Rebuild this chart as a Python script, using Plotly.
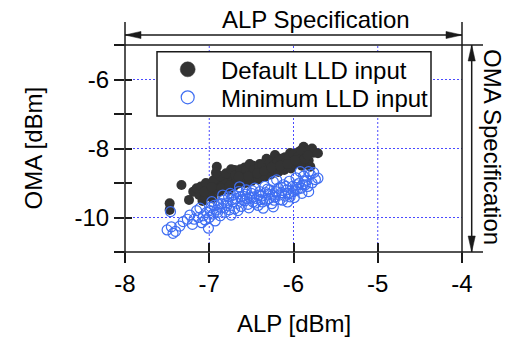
import plotly.graph_objects as go

# ---------------- data ----------------
default_alp = [-7.47,-7.47,-7.33,-7.24,-7.19,-7.12,-7.08,-7.05,-7.02,-7.00,-6.98,-6.96,-6.93,-6.91,-6.90,-6.88,-6.85,-6.83,-6.81,-6.79,
               -6.77,-6.75,-6.73,-6.71,-6.70,-6.68,-6.66,-6.64,-6.62,-6.60,-6.58,-6.57,-6.55,-6.53,-6.51,-6.50,-6.48,-6.46,-6.44,-6.42,
               -6.40,-6.38,-6.36,-6.34,-6.33,-6.31,-6.29,-6.27,-6.25,-6.24,-6.22,-6.20,-6.18,-6.17,-6.15,-6.13,-6.11,-6.10,-6.08,-6.06,
               -6.04,-6.03,-6.01,-5.99,-5.97,-5.96,-5.94,-5.92,-5.90,-5.88,-5.86,-5.84,-5.82,-5.80,-5.78,-5.76,-5.71,
               -7.15,-7.10,-7.04,-6.95,-6.87,-6.92,-6.80,-6.74,-6.69,-6.63,-6.56,-6.52,-6.47,-6.41,-6.37,-6.32,-6.28,-6.23,-6.19,-6.14,
               -6.09,-6.05,-6.00,-5.95,-5.91,-5.87,-5.83,-6.86,-6.76,-6.65,-6.54,-6.43,-6.35,-6.26,-6.16,-6.07,-5.98,-7.06,-6.97]
default_oma = [-9.59,-9.78,-9.06,-9.49,-9.25,-9.35,-9.52,-9.40,-9.22,-9.05,-9.30,-9.45,-9.15,-8.53,-9.00,-9.25,-9.10,-8.85,-9.05,-8.95,
               -9.20,-8.75,-8.98,-9.10,-8.62,-8.88,-9.02,-8.70,-8.92,-8.80,-8.55,-9.00,-8.72,-8.86,-8.60,-8.95,-8.50,-8.78,-8.66,-8.90,
               -8.45,-8.70,-8.58,-8.82,-8.40,-8.65,-8.52,-8.75,-8.35,-8.60,-8.19,-8.48,-8.68,-8.30,-8.55,-8.42,-8.62,-8.25,-8.50,-8.36,
               -8.13,-8.58,-8.28,-8.45,-8.20,-8.38,-8.10,-8.30,-8.50,-7.95,-8.18,-8.05,-8.35,-8.53,-8.00,-8.12,-8.14,
               -9.15,-9.10,-9.00,-8.92,-8.80,-8.70,-8.72,-8.60,-8.78,-8.60,-8.62,-8.45,-8.62,-8.55,-8.48,-8.30,-8.40,-8.48,-8.38,-8.30,
               -8.40,-8.25,-8.15,-8.25,-8.05,-8.30,-8.20,-9.15,-9.08,-8.82,-8.80,-8.72,-8.65,-8.55,-8.50,-8.45,-8.35,-9.25,-9.12]

minimum_alp = [-7.50,-7.45,-7.43,-7.46,-7.40,-7.31,-7.23,-7.18,-7.15,-7.11,-7.09,-7.07,-7.05,-7.03,-7.01,-7.00,-6.98,-6.97,-6.95,-6.93,
               -6.91,-6.89,-6.87,-6.85,-6.83,-6.81,-6.79,-6.77,-6.75,-6.74,-6.72,-6.70,-6.68,-6.67,-6.65,-6.64,-6.62,-6.60,-6.58,-6.56,
               -6.54,-6.52,-6.50,-6.48,-6.46,-6.44,-6.42,-6.40,-6.38,-6.36,-6.34,-6.32,-6.30,-6.28,-6.26,-6.24,-6.24,-6.22,-6.20,-6.18,
               -6.16,-6.14,-6.12,-6.10,-6.08,-6.07,-6.05,-6.03,-6.01,-5.99,-5.97,-5.95,-5.93,-5.92,-5.90,-5.88,-5.86,-5.84,-5.82,-5.82,
               -5.80,-5.78,-5.76,-5.74,-5.71,
               -6.90,-6.86,-6.80,-6.76,-6.71,-6.66,-6.61,-6.57,-6.53,-6.49,-6.45,-6.41,-6.37,-6.33,-6.29,-6.25,-6.21,-6.17,-6.13,-6.09,
               -6.04,-6.00,-5.96,-5.91,-5.87,-5.83,-6.99,-6.94,-6.84,-6.73,-6.63,-6.55,-6.47,-6.39,-6.31,-6.23,-6.15,-6.06,-5.98,-5.89,
               -7.20,-7.13,-7.26,-7.35]
minimum_oma = [-10.36,-10.27,-10.46,-9.83,-10.40,-10.12,-9.93,-10.05,-9.80,-9.73,-10.15,-9.95,-10.07,-9.85,-10.31,-10.00,-9.70,-9.54,-9.90,-10.10,
               -9.78,-9.62,-9.95,-9.72,-9.50,-9.85,-9.65,-9.40,-9.30,-9.93,-9.55,-9.75,-9.45,-9.59,-9.25,-9.11,-9.68,-9.38,-9.52,-9.20,
               -9.62,-9.42,-9.30,-9.55,-9.15,-9.45,-9.65,-9.25,-9.38,-9.73,-9.10,-9.50,-9.32,-9.20,-9.60,-8.96,-9.69,-9.40,-8.91,-9.15,
               -9.48,-9.28,-9.05,-9.38,-9.20,-9.55,-8.95,-9.30,-9.10,-9.42,-8.85,-9.18,-9.00,-8.67,-9.30,-8.80,-9.05,-8.92,-8.67,-9.25,
               -8.75,-9.00,-8.70,-8.90,-8.86,
               -9.85,-9.60,-9.58,-9.78,-9.35,-9.80,-9.48,-9.32,-9.72,-9.22,-9.58,-9.35,-9.55,-9.28,-9.45,-9.35,-9.25,-9.35,-9.50,-9.10,
               -9.40,-9.25,-9.05,-9.15,-8.95,-9.10,-9.80,-9.65,-9.35,-9.48,-9.40,-9.45,-9.40,-9.48,-9.18,-9.50,-9.12,-9.30,-9.20,-9.05,
               -10.20,-10.00,-10.05,-10.25]

series_names = ["Default LLD input", "Minimum LLD input"]
x_ticks = [-8, -7, -6, -5, -4]
x_ticktext = ["-8", "-7", "-6", "-5", "-4"]
y_ticks = [-10, -8, -6]
y_ticktext = ["-10", "-8", "-6"]
y_minor_ticks = [-11, -9, -7, -5]
x_range = [-8, -4]
y_range = [-11, -5]
alp_spec = [-8, -4]
oma_spec = [-11, -5]

# ---------------- geometry helpers (plot area in px) ----------------
W, H = 511, 337
L, R, T, B = 125, 462, 45, 252
PW, PH = R - L, B - T

def px_x(v):   # data x -> pixel
    return L + (v - x_range[0]) / (x_range[1] - x_range[0]) * PW

def px_y(v):
    return B - (v - y_range[0]) / (y_range[1] - y_range[0]) * PH

def pap_x(p):  # pixel -> paper
    return (p - L) / PW

def pap_y(p):
    return (B - p) / PH

FONT = "Liberation Sans, Arial, sans-serif"
BLACK_PT = "#333333"
BLUE_PT = "#3f6ef2"
GRID = "#4a4aff"
LINE = "#1a1a1a"

fig = go.Figure()

fig.add_trace(go.Scatter(x=default_alp, y=default_oma, mode="markers", name=series_names[0], showlegend=False,
                         marker=dict(symbol="circle", size=10, color=BLACK_PT, line=dict(width=0))))
fig.add_trace(go.Scatter(x=minimum_alp, y=minimum_oma, mode="markers", name=series_names[1], showlegend=False,
                         marker=dict(symbol="circle-open", size=10, color=BLUE_PT, line=dict(width=1.2))))
# invisible helper trace so the overlay axes (inner half of the crossing ticks) are drawn
fig.add_trace(go.Scatter(x=[None], y=[None], mode="markers", showlegend=False, xaxis="x2", yaxis="y2",
                         hoverinfo="skip"))

tickfont = dict(family=FONT, size=24, color="black")
fig.update_layout(
    width=W, height=H,
    margin=dict(l=L, r=W - R, t=T, b=H - B),
    paper_bgcolor="white", plot_bgcolor="white",
    font=dict(family=FONT, size=24, color="black"),
    showlegend=False,
    xaxis=dict(range=x_range, tickvals=x_ticks, ticktext=x_ticktext, ticks="outside", ticklen=10,
               tickwidth=1.5, tickcolor=LINE, showline=False, zeroline=False, showgrid=False,
               tickfont=tickfont),
    yaxis=dict(range=y_range, tickvals=y_ticks, ticktext=y_ticktext, ticks="outside", ticklen=10,
               tickwidth=1.5, tickcolor=LINE, showline=False, zeroline=False, showgrid=False,
               tickfont=tickfont,
               minor=dict(tickvals=y_minor_ticks, ticks="outside", ticklen=10, tickwidth=1.5,
                          tickcolor=LINE, showgrid=False)),
    xaxis2=dict(range=x_range, overlaying="x", anchor="y", side="bottom", tickvals=x_ticks, ticks="inside",
                ticklen=9, tickwidth=1.5, tickcolor=LINE, showticklabels=False, showgrid=False,
                zeroline=False, showline=False),
    yaxis2=dict(range=y_range, overlaying="y", anchor="x", side="left",
                tickvals=sorted(y_ticks + y_minor_ticks), ticks="inside", ticklen=7, tickwidth=1.5,
                tickcolor=LINE, showticklabels=False, showgrid=False, zeroline=False, showline=False),
)

shapes = []
lw = 1.5
# dotted blue gridlines at the interior major ticks
for v in x_ticks[1:-1]:
    shapes.append(dict(type="line", xref="x", yref="paper", x0=v, x1=v, y0=0, y1=1, layer="below",
                       line=dict(color=GRID, width=1, dash="2px,2px")))
for v in y_ticks:
    shapes.append(dict(type="line", xref="paper", yref="y", x0=0, x1=1, y0=v, y1=v, layer="below",
                       line=dict(color=GRID, width=1, dash="2px,2px")))

# spec boundary lines (extend outside the plot area)
for a in alp_spec:
    shapes.append(dict(type="line", xref="paper", yref="paper", x0=pap_x(px_x(a)), x1=pap_x(px_x(a)),
                       y0=pap_y(22), y1=pap_y(262), line=dict(color=LINE, width=lw)))
for o in oma_spec:
    shapes.append(dict(type="line", xref="paper", yref="paper", x0=pap_x(119), x1=pap_x(483),
                       y0=pap_y(px_y(o)), y1=pap_y(px_y(o)), line=dict(color=LINE, width=lw)))

# ALP specification arrow
ay = 35
x0p, x1p = px_x(alp_spec[0]), px_x(alp_spec[1])
shapes.append(dict(type="line", xref="paper", yref="paper", x0=pap_x(x0p), x1=pap_x(x1p),
                   y0=pap_y(ay), y1=pap_y(ay), line=dict(color=LINE, width=lw)))
hl, hw = 16, 3.6
def tri_h(tip, direction):
    bx = tip + direction * hl
    return (f"M {pap_x(tip)} {pap_y(ay)} L {pap_x(bx)} {pap_y(ay - hw)} "
            f"L {pap_x(bx)} {pap_y(ay + hw)} Z")
for tip, d in [(x0p, 1), (x1p, -1)]:
    shapes.append(dict(type="path", xref="paper", yref="paper", path=tri_h(tip, d),
                       fillcolor=LINE, line=dict(color=LINE, width=0.5)))

# OMA specification arrow
axp = 471.7
y0p, y1p = px_y(oma_spec[1]), px_y(oma_spec[0])
shapes.append(dict(type="line", xref="paper", yref="paper", x0=pap_x(axp), x1=pap_x(axp),
                   y0=pap_y(y0p), y1=pap_y(y1p), line=dict(color=LINE, width=lw)))
def tri_v(tip, direction):
    by = tip + direction * hl
    return (f"M {pap_x(axp)} {pap_y(tip)} L {pap_x(axp - hw)} {pap_y(by)} "
            f"L {pap_x(axp + hw)} {pap_y(by)} Z")
for tip, d in [(y0p, 1), (y1p, -1)]:
    shapes.append(dict(type="path", xref="paper", yref="paper", path=tri_v(tip, d),
                       fillcolor=LINE, line=dict(color=LINE, width=0.5)))

# legend box and symbols
leg_l, leg_r, leg_t, leg_b = 157, 431, 51.7, 116
row_y = [69.3, 97.3]
sym_x = 187.7
shapes.append(dict(type="rect", xref="paper", yref="paper", x0=pap_x(leg_l), x1=pap_x(leg_r),
                   y0=pap_y(leg_b), y1=pap_y(leg_t), fillcolor="white", layer="above",
                   line=dict(color=LINE, width=1.5)))
r0 = 7.5
shapes.append(dict(type="circle", xref="paper", yref="paper", x0=pap_x(sym_x - r0), x1=pap_x(sym_x + r0),
                   y0=pap_y(row_y[0] + r0), y1=pap_y(row_y[0] - r0), fillcolor=BLACK_PT,
                   line=dict(color=BLACK_PT, width=0.5), layer="above"))
r1 = 6.5
shapes.append(dict(type="circle", xref="paper", yref="paper", x0=pap_x(sym_x - r1), x1=pap_x(sym_x + r1),
                   y0=pap_y(row_y[1] + r1), y1=pap_y(row_y[1] - r1), fillcolor="rgba(0,0,0,0)",
                   line=dict(color=BLUE_PT, width=1.2), layer="above"))

fig.update_layout(shapes=shapes)

annotations = [
    dict(text="ALP Specification", xref="paper", yref="paper", x=pap_x(316), y=pap_y(20),
         xanchor="center", yanchor="middle", showarrow=False, font=dict(family=FONT, size=24, color="black")),
    dict(text="OMA Specification", xref="paper", yref="paper", x=pap_x(493), y=pap_y(147),
         xanchor="center", yanchor="middle", textangle=90, showarrow=False,
         font=dict(family=FONT, size=24, color="black")),
    dict(text="ALP [dBm]", xref="paper", yref="paper", x=0.5, y=pap_y(323.5),
         xanchor="center", yanchor="middle", showarrow=False, font=dict(family=FONT, size=24, color="black")),
    dict(text="OMA [dBm]", xref="paper", yref="paper", x=pap_x(33), y=0.5,
         xanchor="center", yanchor="middle", textangle=-90, showarrow=False,
         font=dict(family=FONT, size=24, color="black")),
]
for name, yy in zip(series_names, row_y):
    annotations.append(dict(text=name, xref="paper", yref="paper", x=pap_x(219), y=pap_y(yy + 1),
                            xanchor="left", yanchor="middle", showarrow=False,
                            font=dict(family=FONT, size=24, color="black")))
fig.update_layout(annotations=annotations)

fig.write_html("out.html", config={"displayModeBar": False},
               post_script="document.body.style.margin='0px';document.body.style.overflow='hidden';")
